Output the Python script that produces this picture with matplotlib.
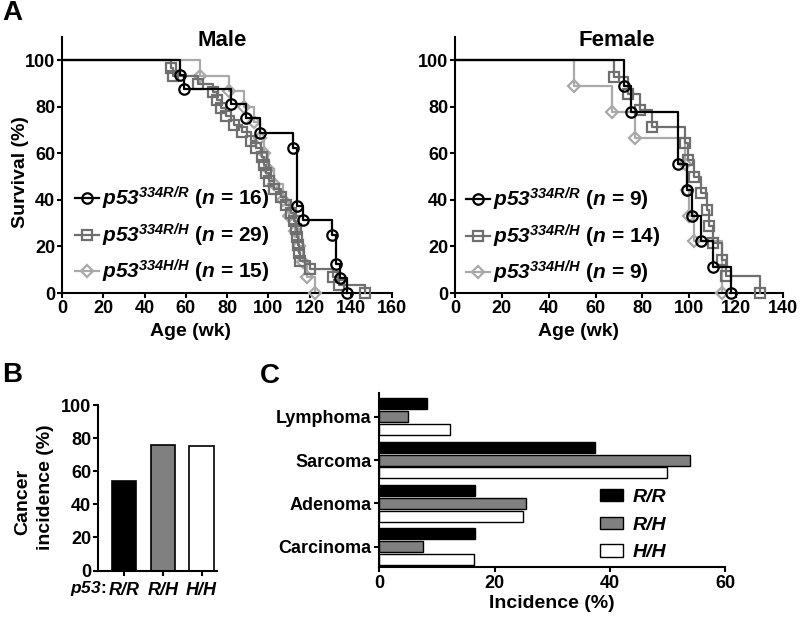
import matplotlib
matplotlib.use('Agg')
import matplotlib.pyplot as plt
from matplotlib.lines import Line2D
from matplotlib.patches import Patch

plt.rcParams.update({
    'font.family': ['Liberation Sans', 'DejaVu Sans'],
    'font.weight': 'bold',
    'axes.labelweight': 'bold',
    'mathtext.fontset': 'custom',
    'mathtext.it': 'Liberation Sans:italic:bold',
    'mathtext.rm': 'Liberation Sans:italic:bold',
    'mathtext.bf': 'Liberation Sans:italic:bold',
    'mathtext.sf': 'Liberation Sans:italic:bold',
    'axes.linewidth': 1.5,
    'xtick.major.width': 1.5,
    'ytick.major.width': 1.5,
    'xtick.major.size': 3.5,
    'ytick.major.size': 3.5,
})

# ---------------- data ----------------
genotypes = ['R/R', 'R/H', 'H/H']

male_rr_t = [57, 59, 82, 89, 96, 112, 114, 117, 131, 133, 135, 138]
male_rr_s = [93.75, 87.5, 81.25, 75.0, 68.75, 62.5, 37.5, 31.25, 25.0, 12.5, 6.25, 0]
male_rh_t = [53, 54, 66, 73, 75, 77, 79.5, 83.5, 87.5, 91.5, 94, 97, 98, 99, 100.5,
             103, 106, 108.5, 111, 112.5, 113.5, 114, 114.5, 115, 115.5, 120, 131.5, 134.5, 147]
male_rh_s = [96.6, 93.1, 89.7, 86.2, 82.8, 79.3, 75.9, 72.4, 69.0, 65.5, 62.1, 58.6, 55.2,
             51.7, 48.3, 44.8, 41.4, 37.9, 34.5, 31.0, 27.6, 24.1, 20.7, 17.2, 13.8, 10.3,
             6.9, 3.4, 0]
male_hh_t = [67, 81, 88, 93, 96, 98, 100, 103, 107, 110, 113, 115, 117, 119, 122.5]
male_hh_s = [93.3, 86.7, 80.0, 73.3, 66.7, 60.0, 53.3, 46.7, 40.0, 33.3, 26.7, 20.0, 13.3, 6.7, 0]
male_n = [16, 29, 15]

female_rr_t = [72, 75, 95, 99, 101, 105, 110, 118]
female_rr_s = [88.9, 77.8, 55.6, 44.4, 33.3, 22.2, 11.1, 0]
female_rh_t = [68, 74, 79, 84, 98, 99.5, 102, 105, 107.5, 108.5, 110, 114, 115.5, 130]
female_rh_s = [92.9, 85.7, 78.6, 71.4, 64.3, 57.1, 50.0, 42.9, 35.7, 28.6, 21.4, 14.3, 7.1, 0]
female_hh_t = [51, 67, 77, 98, 99, 100, 102, 114]
female_hh_s = [88.9, 77.8, 66.7, 55.6, 44.4, 33.3, 22.2, 0]
female_n = [9, 14, 9]

cancer_incidence = [54, 76, 75]

tumor_types = ['Lymphoma', 'Sarcoma', 'Adenoma', 'Carcinoma']
inc_rr = [8.2, 37.4, 16.6, 16.6]
inc_rh = [4.9, 53.9, 25.5, 7.5]
inc_hh = [12.3, 49.9, 24.9, 16.5]

# ---------------- styles ----------------
W, H = 800, 622
fig = plt.figure(figsize=(8, 6.22), dpi=100)

def rect(l, t, r, b):
    return [l / W, 1 - b / H, (r - l) / W, (b - t) / H]

def fx(px):
    return px / W

def fy(py):
    return 1 - py / H

line_cols = ['#000000', '#6f6f6f', '#a9a9a9']
markers = ['o', 's', 'D']
msizes = [7.5, 7.5, 6]
bar_cols = ['#000000', '#808080', '#ffffff']
TICK = 13


def survival(ax, data, ns, xmax, legend_anchor):
    order = [2, 1, 0]
    for i in order:
        t, s = data[i]
        ax.step([0] + t, [100] + s, where='post', color=line_cols[i], lw=1.6,
                clip_on=False, zorder=2 + (2 - i))
        ax.plot(t, s, ls='none', marker=markers[i], ms=msizes[i], mfc='none',
                mec=line_cols[i], mew=1.6, clip_on=False, zorder=3 + (2 - i))
    ax.set_xlim(0, xmax)
    ax.set_ylim(0, 110)
    ax.set_xticks(range(0, xmax + 1, 20))
    ax.set_yticks(range(0, 101, 20))
    ax.tick_params(labelsize=TICK, pad=1.5)
    for sp in ['top', 'right']:
        ax.spines[sp].set_visible(False)
    handles = [Line2D([], [], color=line_cols[i], lw=1.6, marker=markers[i],
                      ms=msizes[i], mfc='none', mec=line_cols[i], mew=1.6)
               for i in range(3)]
    labels = [r'$p53^{334' + g + r'}$ ($n$ = %d)' % n
              for g, n in zip(genotypes, ns)]
    ax.legend(handles, labels, loc='center left', bbox_to_anchor=legend_anchor,
              bbox_transform=fig.transFigure, frameon=False, fontsize=15,
              handlelength=1.15, handletextpad=0.15, labelspacing=0.45,
              borderpad=0, borderaxespad=0)


# ---------------- Panel A: male ----------------
axm = fig.add_axes(rect(62, 37, 392, 293))
survival(axm, [(male_rr_t, male_rr_s), (male_rh_t, male_rh_s), (male_hh_t, male_hh_s)],
         male_n, 160, (fx(75), fy(235)))
fig.text(fx(222), fy(40), 'Male', ha='center', va='center', fontsize=16)
fig.text(fx(21), fy(172), 'Survival (%)', rotation=90, ha='center', va='center', fontsize=14)
fig.text(fx(190), fy(331), 'Age (wk)', ha='center', va='center', fontsize=14)

# ---------------- Panel A: female ----------------
axf = fig.add_axes(rect(455, 37, 783, 293))
survival(axf, [(female_rr_t, female_rr_s), (female_rh_t, female_rh_s), (female_hh_t, female_hh_s)],
         female_n, 140, (fx(466), fy(236)))
fig.text(fx(617), fy(40), 'Female', ha='center', va='center', fontsize=16)
fig.text(fx(579), fy(331), 'Age (wk)', ha='center', va='center', fontsize=14)

fig.text(fx(12), fy(13), 'A', ha='center', va='center', fontsize=20)

# ---------------- Panel B ----------------
axb = fig.add_axes(rect(98, 405, 217, 570.5))
xb = list(range(len(genotypes)))
axb.bar(xb, cancer_incidence, width=0.63, color=bar_cols, edgecolor='black', linewidth=1.2)
axb.set_xlim(-0.68, 2.4)
axb.set_ylim(0, 100)
axb.set_yticks(range(0, 101, 20))
axb.set_xticks(xb)
axb.set_xticklabels(genotypes, fontstyle='italic')
axb.tick_params(labelsize=TICK, pad=1.5)
axb.tick_params(axis='x', pad=5)
for sp in ['top', 'right']:
    axb.spines[sp].set_visible(False)
fig.text(fx(106), fy(589), r'$p53$:', ha='right', va='center', fontsize=12.5)
fig.text(fx(23), fy(502), 'Cancer', rotation=90, ha='center', va='center', fontsize=14)
fig.text(fx(45), fy(487), 'incidence (%)', rotation=90, ha='center', va='center', fontsize=14)
fig.text(fx(12), fy(375), 'B', ha='center', va='center', fontsize=20)

# ---------------- Panel C ----------------
axc = fig.add_axes(rect(379.3, 392.7, 725, 567.3))
yc = [3, 2, 1, 0]
bh = 0.255
off = 0.295
for k, (vals, col) in enumerate(zip([inc_rr, inc_rh, inc_hh], bar_cols)):
    axc.barh([y + off * (1 - k) for y in yc], vals, height=bh, color=col,
             edgecolor='black', linewidth=1.0)
axc.set_xlim(0, 60)
axc.set_ylim(-0.476, 3.554)
axc.set_xticks([0, 20, 40, 60])
axc.set_yticks(yc)
axc.set_yticklabels(tumor_types)
axc.tick_params(labelsize=TICK, pad=2)
for sp in ['top', 'right']:
    axc.spines[sp].set_visible(False)
axc.set_xlabel('Incidence (%)', fontsize=14, labelpad=2)
leg_handles = [Patch(facecolor=c, edgecolor='black', linewidth=1.0) for c in bar_cols]
leg = axc.legend(leg_handles, genotypes, loc='upper left',
                 bbox_to_anchor=(fx(600), fy(489)), bbox_transform=fig.transFigure,
                 frameon=False, fontsize=14, handlelength=1.2, handleheight=0.6,
                 handletextpad=0.5, labelspacing=0.55, borderpad=0, borderaxespad=0)
for t in leg.get_texts():
    t.set_fontstyle('italic')
fig.text(fx(270), fy(376), 'C', ha='center', va='center', fontsize=20)

fig.savefig('out.png', dpi=100)
